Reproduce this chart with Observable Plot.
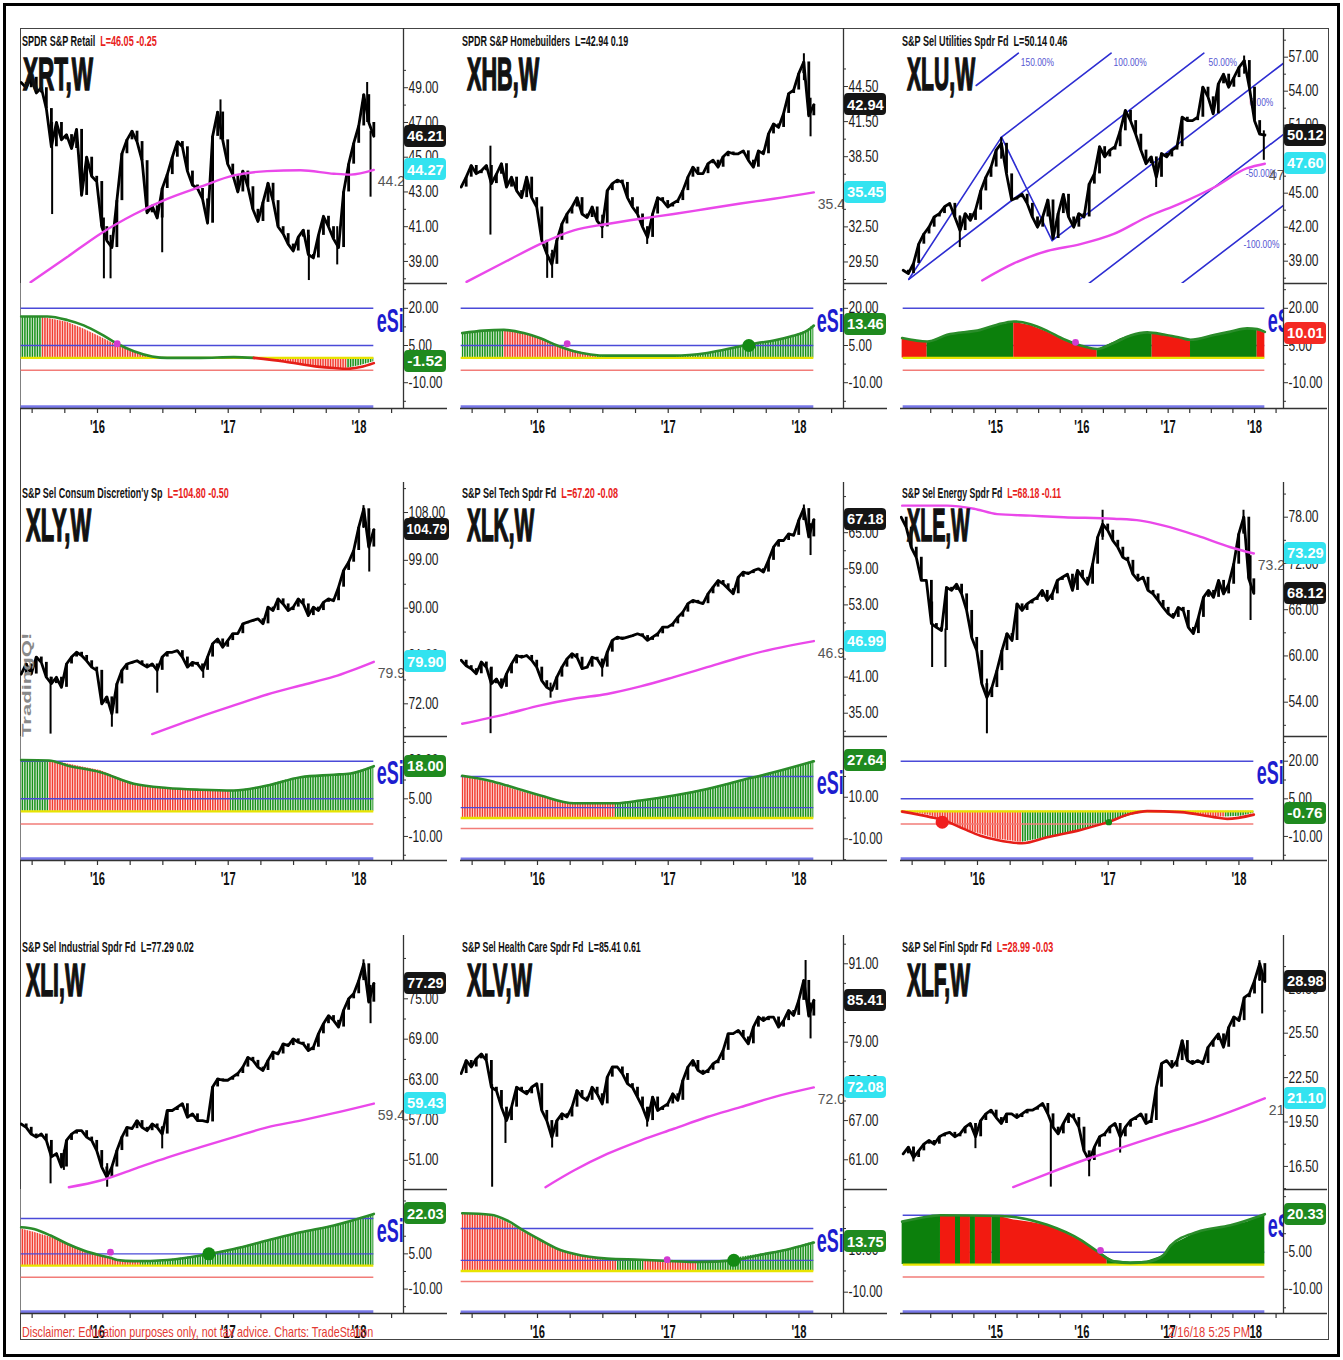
<!DOCTYPE html>
<html>
<head>
<meta charset="utf-8">
<script src="https://cdn.jsdelivr.net/npm/d3@7"></script>
<script src="https://cdn.jsdelivr.net/npm/@observablehq/plot@0.6"></script>
<style>
html,body{margin:0;padding:0;background:#fff;}
#root{position:relative;width:1343px;height:1360px;overflow:hidden;background:#fff;font-family:"Liberation Sans",Arial,Helvetica,sans-serif;}
#root > *{position:absolute;}
.ttl{white-space:nowrap;font-weight:bold;line-height:1;transform-origin:0 0;color:#111;}
.box{display:flex;align-items:center;justify-content:center;border-radius:4px;color:#fff;font-weight:bold;font-size:15.5px;line-height:1;overflow:hidden;}
.box span{display:inline-block;white-space:nowrap;}
</style>
</head>
<body>
<div id="root"></div>
<script>
// ================= DATA =================
// time spans (decimal years) of the weekly series and of the x scales
const shortSpan = [2015.416, 2018.114];
const longSpan = [2013.931, 2018.120];
const shortDomain = [2015.411, 2018.341];
const longDomain = [2013.900, 2018.336];
const shortYears = [2016, 2017, 2018];
const longYears = [2015, 2016, 2017, 2018];

// ---- XRT ----
const xrtPrice = [49.3,49.0,49.6,48.7,49.0,47.8,45.6,47.0,46.0,46.3,45.5,46.6,42.8,45.0,43.9,43.6,41.0,40.2,39.8,42.5,45.2,46.0,46.5,45.9,44.8,41.8,42.2,41.5,43.2,44.0,45.0,45.9,45.6,44.2,43.4,43.2,42.6,41.2,46.2,47.6,46.0,44.6,44.0,43.0,44.2,43.3,42.0,41.3,42.4,43.5,42.5,41.0,40.6,40.0,39.6,40.4,40.8,39.4,39.2,40.5,41.6,41.0,40.3,39.8,43.0,44.6,45.8,46.8,48.6,47.0,46.21];
const xrtMA = [[2015.488,37.8],[2015.768,39.25],[2016.023,40.6],[2016.278,41.7],[2016.533,42.6],[2016.788,43.3],[2017.043,43.95],[2017.298,44.2],[2017.553,44.25],[2017.808,44.05],[2017.936,44.0],[2018.114,44.27]];
const xrtSpikes = [[2015.653,41.7,47.0],[2016.049,38.0,41.5],[2016.100,38.0,40.5],[2016.495,39.5,43.0],[2016.941,46.0,48.3],[2017.617,37.9,40.5],[2017.834,38.8,41.0],[2018.063,47.0,49.3],[2018.089,42.7,46.5]];
const xrtHist = [[2015.416,16.4,"g"],[2015.577,16.4,"r"],[2015.768,14.4,"r"],[2015.895,11.7,"r"],[2016.023,8.4,"r"],[2016.151,5.0,"r"],[2016.278,2.3,"r"],[2016.418,0.6,"r"],[2016.533,0.1,"r"],[2016.712,-0.3,"g"],[2016.916,0.1,"r"],[2017.196,-0.4,"r"],[2017.426,-1.7,"r"],[2017.681,-3.7,"r"],[2017.808,-4.4,"r"],[2017.910,-4.2,"g"],[2018.012,-3.1,"g"],[2018.114,-1.52,"g"]];
const xrtSignal = [[2015.416,16.7,"g"],[2015.615,16.7,"g"],[2015.768,15.3,"g"],[2015.895,13.1,"g"],[2016.023,9.7,"g"],[2016.151,5.7,"g"],[2016.278,2.7,"g"],[2016.418,0.6,"g"],[2016.533,0.0,"g"],[2016.788,0.0,"g"],[2017.043,0.3,"g"],[2017.196,0.0,"r"],[2017.426,-1.45,"r"],[2017.681,-3.5,"r"],[2017.808,-4.1,"r"],[2017.910,-4.4,"r"],[2018.012,-3.7,"r"],[2018.114,-2.1,"r"]];
const xrtDots = [[2016.151,5.7,"pink"]];
const xrtTicks = [39,41,43,45,47,49];
const xrtMinor = [38,40,42,44,46,48,50];

// ---- XHB ----
const xhbPrice = [35.9,36.75,37.75,37.05,37.3,37.75,36.2,37.0,37.9,35.9,36.75,35.6,35.0,36.75,35.0,34.2,31.35,30.2,29.3,31.35,32.75,33.6,34.2,35.0,33.6,33.3,34.2,33.0,32.5,35.6,36.2,36.5,36.3,35.0,34.2,33.6,32.5,31.6,33.6,35.0,34.75,34.2,34.5,34.75,35.6,36.75,37.6,37.05,37.05,37.9,38.2,37.6,38.5,38.9,38.75,38.75,39.0,38.2,37.6,39.0,38.75,40.45,41.3,41.0,42.2,43.9,44.2,45.6,46.6,42.0,42.94];
const xhbMA = [[2015.457,27.8],[2015.768,29.6],[2016.023,31.05],[2016.278,32.2],[2016.533,32.75],[2016.788,33.2],[2017.043,33.6],[2017.298,34.05],[2017.553,34.5],[2017.808,34.9],[2018.114,35.45]];
const xhbSpikes = [[2015.640,31.8,39.4],[2016.074,28.1,31.0],[2016.112,28.1,30.5],[2016.495,31.5,33.5],[2016.839,31.0,32.5],[2018.038,45.0,47.3],[2018.089,40.2,43.5]];
const xhbHist = [[2015.424,9.7,"g"],[2015.513,10.4,"g"],[2015.590,11.0,"g"],[2015.743,11.0,"r"],[2015.895,9.7,"r"],[2016.023,7.7,"r"],[2016.151,5.0,"r"],[2016.278,3.0,"r"],[2016.406,1.4,"r"],[2016.457,1.0,"g"],[2016.788,0.6,"r"],[2016.890,0.6,"g"],[2017.043,0.6,"g"],[2017.298,1.6,"g"],[2017.553,4.3,"g"],[2017.681,5.7,"g"],[2017.808,7.0,"g"],[2017.936,8.4,"g"],[2018.063,11.0,"g"],[2018.114,13.46,"g"]];
const xhbSignal = [[2015.424,10.0,"g"],[2015.590,11.0,"g"],[2015.743,11.3,"g"],[2015.895,10.0,"g"],[2016.023,7.9,"g"],[2016.151,5.0,"g"],[2016.278,2.7,"g"],[2016.406,1.4,"g"],[2016.533,0.9,"g"],[2016.788,0.9,"g"],[2017.043,0.9,"g"],[2017.298,2.0,"g"],[2017.553,4.7,"g"],[2017.681,6.0,"g"],[2017.808,7.0,"g"],[2017.936,8.6,"g"],[2018.063,11.0,"g"],[2018.114,13.0,"g"]];
const xhbDots = [[2016.227,5.7,"pink"],[2017.617,5.0,"green"]];
const xhbTicks = [29.5,32.5,35.5,38.5,41.5,44.5];
const xhbMinor = [28,31,34,37,40,43,46];

// ---- XLU ----
const xluPrice = [38.2,37.9,38.8,40.5,41.4,42.0,42.9,43.2,43.8,44.1,42.9,41.7,43.2,42.6,43.5,45.2,46.4,47.3,48.8,49.4,46.7,44.4,44.6,44.9,44.1,42.9,42.0,42.9,44.4,41.0,43.2,44.9,42.9,42.0,43.2,42.9,45.8,46.7,49.1,48.2,48.8,49.1,50.5,52.3,51.4,50.2,48.8,47.6,48.2,46.4,48.5,48.2,48.8,49.1,51.7,51.4,51.4,51.7,54.35,53.5,52.0,54.65,55.5,54.35,55.2,56.1,56.7,54.35,51.4,50.2,50.12];
const xluMA = [[2014.846,37.3],[2015.212,38.8],[2015.599,39.9],[2015.985,40.5],[2016.371,41.4],[2016.757,42.9],[2017.143,44.1],[2017.529,45.5],[2017.915,47.2],[2018.120,47.6]];
const xluSpikes = [[2014.587,40.2,43.0],[2015.066,48.0,49.9],[2016.861,45.5,47.5],[2017.880,55.5,57.1],[2018.108,47.9,50.5]];
const xluHist = [[2013.919,7.7,"r"],[2014.054,7.0,"r"],[2014.209,6.3,"g"],[2014.440,9.0,"g"],[2014.633,10.4,"g"],[2014.826,11.0,"g"],[2015.019,13.1,"g"],[2015.212,14.4,"r"],[2015.405,13.1,"r"],[2015.599,10.4,"r"],[2015.792,7.0,"r"],[2015.985,4.6,"r"],[2016.178,3.3,"g"],[2016.371,6.3,"g"],[2016.448,7.7,"g"],[2016.564,9.0,"g"],[2016.757,10.1,"g"],[2016.815,10.0,"r"],[2016.950,9.0,"r"],[2017.143,7.7,"r"],[2017.259,7.0,"g"],[2017.529,9.0,"g"],[2017.722,10.4,"g"],[2017.915,11.7,"g"],[2018.031,11.3,"r"],[2018.120,10.01,"r"]];
const xluSignal = [[2013.919,8.0,"g"],[2014.209,6.6,"g"],[2014.440,9.3,"g"],[2014.826,11.3,"g"],[2015.019,13.4,"g"],[2015.212,14.7,"g"],[2015.405,13.6,"g"],[2015.599,10.9,"g"],[2015.792,7.5,"g"],[2015.985,5.0,"g"],[2016.178,3.6,"g"],[2016.371,6.0,"g"],[2016.564,9.0,"g"],[2016.757,10.3,"g"],[2016.950,9.4,"g"],[2017.143,8.1,"g"],[2017.259,7.3,"g"],[2017.529,9.2,"g"],[2017.722,10.6,"g"],[2017.915,11.9,"g"],[2018.031,11.6,"g"],[2018.120,10.5,"g"]];
const xluDots = [[2015.927,6.3,"pink"]];
const xluTicks = [39,42,45,48,51,54,57];
const xluMinor = [37.5,40.5,43.5,46.5,49.5,52.5,55.5,58.5];
// Andrews pitchfork anchors (A low, B high, C low) and its levels
const xluFork = [[2013.996,37.4],[2015.070,49.94],[2015.656,40.82]];
const forkLevels = [1.5, 1, 0.5, 0, -0.5, -1];

// ---- XLY ----
const xlyPrice = [77.6,79.5,77.6,80.8,79.8,77.0,75.8,77.0,75.1,79.5,80.8,81.7,81.1,80.1,78.9,78.3,72.0,73.3,70.1,75.75,78.3,79.5,79.8,80.1,79.5,78.9,79.5,78.3,80.8,81.7,81.7,82.0,80.8,78.9,79.8,79.5,78.3,80.8,83.3,84.2,82.65,83.9,85.2,85.2,87.05,87.4,87.7,88.0,87.05,90.2,89.55,91.75,90.8,89.55,90.2,91.75,90.8,88.6,90.2,89.55,91.1,91.75,91.4,93.95,97.1,98.65,100.85,105.2,108.7,101.5,104.79];
const xlyMA = [[2016.418,66.3],[2016.788,69.6],[2017.043,71.7],[2017.298,73.75],[2017.553,75.45],[2017.808,77.1],[2018.114,79.9]];
const xlySpikes = [[2015.641,66.3,77.0],[2016.110,67.6,72.0],[2016.457,74.0,79.0],[2016.809,76.8,79.0],[2018.035,105.0,109.3],[2018.079,96.8,105.0]];
const xlyHist = [[2015.416,20.3,"g"],[2015.628,20.3,"r"],[2015.768,19.0,"r"],[2015.895,17.6,"r"],[2016.023,16.3,"r"],[2016.151,13.6,"r"],[2016.278,11.0,"r"],[2016.406,9.65,"r"],[2016.533,9.0,"r"],[2016.661,8.6,"r"],[2016.788,8.3,"r"],[2016.916,8.1,"r"],[2017.018,8.1,"g"],[2017.171,9.0,"g"],[2017.298,10.3,"g"],[2017.426,12.3,"g"],[2017.553,13.6,"g"],[2017.681,14.3,"g"],[2017.808,14.3,"g"],[2017.936,15.0,"g"],[2018.012,16.3,"g"],[2018.114,18.0,"g"]];
const xlySignal = [[2015.416,20.5,"g"],[2015.628,20.3,"g"],[2015.768,18.3,"g"],[2016.023,15.6,"g"],[2016.278,11.0,"g"],[2016.533,9.3,"g"],[2016.788,8.6,"g"],[2017.043,8.3,"g"],[2017.298,10.3,"g"],[2017.553,13.6,"g"],[2017.808,14.6,"g"],[2017.936,15.1,"g"],[2018.114,18.0,"g"]];
const xlyDots = [];
const xlyTicks = [72,81,90,99,108];
const xlyMinor = [67.5,76.5,85.5,94.5,103.5,112.5];

// ---- XLK ----
const xlkPrice = [43.8,42.9,42.4,41.55,43.5,42.65,39.9,40.7,39.3,41.55,43.2,44.6,44.3,44.6,43.8,42.65,40.4,39.3,38.8,41.0,42.65,44.0,44.9,44.3,42.4,42.65,44.3,44.0,42.65,45.15,47.1,47.65,47.4,47.65,47.9,48.2,47.9,47.1,47.65,48.2,49.3,49.3,49.85,50.95,51.8,53.2,53.75,53.45,53.2,54.85,55.95,57.05,56.5,55.7,54.85,57.6,58.45,58.2,58.7,59.0,58.45,60.4,62.6,63.7,63.7,64.8,64.55,67.05,69.0,64.3,67.18];
const xlkMA = [[2015.424,33.25],[2015.768,34.9],[2016.023,36.3],[2016.278,37.4],[2016.533,38.2],[2016.788,39.45],[2017.043,41.0],[2017.298,42.65],[2017.553,44.3],[2017.808,45.7],[2018.114,46.99]];
const xlkSpikes = [[2015.641,31.6,42.5],[2016.100,37.5,40.0],[2016.495,41.0,43.5],[2018.038,67.0,69.6],[2018.089,61.2,66.5]];
const xlkHist = [[2015.424,19.9,"r"],[2015.513,18.8,"r"],[2015.641,17.2,"r"],[2015.768,14.8,"r"],[2015.895,12.4,"r"],[2016.023,10.3,"r"],[2016.151,8.4,"r"],[2016.278,6.8,"r"],[2016.406,6.8,"r"],[2016.597,7.1,"g"],[2016.788,8.4,"g"],[2017.043,10.8,"g"],[2017.298,14.0,"g"],[2017.553,18.0,"g"],[2017.808,22.0,"g"],[2017.936,23.6,"g"],[2018.114,27.64,"g"]];
const xlkSignal = [[2015.424,20.3,"g"],[2015.641,17.8,"g"],[2015.768,15.6,"g"],[2016.023,10.8,"g"],[2016.278,7.1,"g"],[2016.597,7.1,"g"],[2016.788,8.4,"g"],[2017.043,10.8,"g"],[2017.298,14.0,"g"],[2017.553,18.0,"g"],[2017.808,22.0,"g"],[2018.114,27.3,"g"]];
const xlkDots = [];
const xlkTicks = [35,41,47,53,59,65];
const xlkMinor = [32,38,44,50,56,62,68,71];

// ---- XLE ----
const xlePrice = [78.0,76.7,74.1,72.8,69.8,69.8,64.2,63.7,63.3,68.9,68.5,69.3,68.05,65.9,62.4,60.7,56.4,54.6,55.9,58.1,60.7,62.9,62.0,66.75,65.9,66.75,67.2,67.6,68.5,67.2,68.05,69.8,70.2,70.6,68.5,71.1,70.2,69.3,71.9,75.4,77.1,76.3,75.0,74.1,72.8,72.4,70.6,69.8,70.2,68.5,68.05,67.2,66.3,65.5,65.0,66.3,65.9,63.7,62.9,65.0,67.6,68.5,67.6,69.8,68.05,69.3,71.9,75.8,78.0,70.0,68.12];
const xleMA = [[2015.424,79.5],[2015.768,79.5],[2015.972,79.1],[2016.151,78.4],[2016.406,78.2],[2016.661,78.0],[2017.043,77.8],[2017.247,77.55],[2017.426,76.9],[2017.681,75.6],[2017.936,74.1],[2018.114,73.29]];
const xleSpikes = [[2015.653,58.5,67.0],[2015.755,58.5,63.5],[2016.072,49.9,57.0],[2016.957,75.0,78.9],[2018.035,76.0,78.9],[2018.089,64.6,73.0]];
const xleHist = [[2015.424,0.3,"r"],[2015.641,-1.65,"r"],[2015.743,-3.6,"r"],[2015.895,-7.0,"r"],[2016.023,-9.0,"r"],[2016.151,-11.0,"r"],[2016.278,-11.9,"r"],[2016.342,-12.3,"g"],[2016.533,-10.3,"g"],[2016.788,-7.6,"g"],[2016.992,-4.7,"g"],[2017.171,-1.65,"g"],[2017.324,0.1,"r"],[2017.553,-0.3,"r"],[2017.681,-1.65,"r"],[2017.808,-2.3,"r"],[2017.898,-2.3,"g"],[2018.012,-2.0,"g"],[2018.114,-0.76,"g"]];
const xleSignal = [[2015.424,-0.1,"r"],[2015.641,-2.3,"r"],[2015.743,-3.6,"r"],[2015.895,-7.0,"r"],[2016.023,-9.7,"r"],[2016.151,-11.4,"r"],[2016.342,-12.7,"r"],[2016.533,-10.3,"r"],[2016.788,-7.4,"r"],[2016.992,-4.4,"r"],[2017.171,-1.0,"r"],[2017.298,0.1,"r"],[2017.553,-0.3,"r"],[2017.808,-2.3,"r"],[2017.910,-3.0,"r"],[2018.114,-1.3,"r"]];
const xleDots = [[2015.730,-4.3,"red"],[2017.005,-4.3,"gsmall"]];
const xleTicks = [54,60,66,72,78];
const xleMinor = [51,57,63,69,75,81];

// ---- XLI ----
const xliPrice = [56.4,55.9,54.9,54.45,54.9,53.95,51.5,52.0,50.0,53.95,54.9,55.4,55.4,54.45,53.95,52.45,50.0,48.5,50.0,52.45,54.45,55.9,55.7,56.9,55.9,55.4,56.4,55.9,54.9,58.4,58.4,58.9,59.4,57.4,57.9,56.9,56.9,56.7,61.9,63.1,62.9,62.9,63.4,63.9,64.85,66.3,65.85,64.85,64.35,65.85,67.1,66.8,68.3,68.05,69.05,68.55,68.3,67.3,67.8,69.8,71.3,72.5,71.8,70.8,73.3,75.0,75.75,77.7,80.2,74.5,77.29];
const xliMA = [[2015.781,47.0],[2016.023,48.0],[2016.278,49.7],[2016.533,51.4],[2016.788,52.95],[2017.043,54.45],[2017.298,55.9],[2017.553,56.9],[2017.808,58.0],[2018.114,59.43]];
const xliSpikes = [[2015.641,47.5,53.0],[2015.743,49.5,52.5],[2016.074,47.0,50.5],[2016.495,52.7,56.0],[2018.035,78.0,80.8],[2018.089,71.3,77.0]];
const xliHist = [[2015.416,15.6,"r"],[2015.513,14.2,"r"],[2015.641,12.1,"r"],[2015.768,9.3,"r"],[2015.895,6.4,"r"],[2016.023,4.3,"r"],[2016.151,2.4,"r"],[2016.278,1.9,"r"],[2016.329,1.9,"g"],[2016.533,2.4,"g"],[2016.788,4.3,"g"],[2017.043,7.1,"g"],[2017.298,10.7,"g"],[2017.553,14.2,"g"],[2017.808,17.1,"g"],[2017.936,18.5,"g"],[2018.114,22.03,"g"]];
const xliSignal = [[2015.416,16.3,"g"],[2015.513,15.6,"g"],[2015.641,12.8,"g"],[2015.768,9.3,"g"],[2015.895,6.4,"g"],[2016.023,4.3,"g"],[2016.099,3.3,"g"],[2016.151,2.4,"g"],[2016.278,1.9,"g"],[2016.533,2.4,"g"],[2016.788,4.3,"g"],[2017.043,7.1,"g"],[2017.298,10.7,"g"],[2017.553,14.2,"g"],[2017.808,17.1,"g"],[2018.114,22.0,"g"]];
const xliDots = [[2016.099,5.7,"pink"],[2016.852,5.0,"green"]];
const xliTicks = [51,57,63,69,75];
const xliMinor = [48,54,60,66,72,78,81];

// ---- XLV ----
const xlvPrice = [74.2,76.2,75.2,76.45,77.2,76.2,72.1,71.6,69.05,67.0,69.05,72.1,71.6,71.1,72.1,72.65,68.55,67.0,64.45,67.0,68.05,67.55,69.05,71.6,70.6,70.1,72.1,71.1,69.55,73.65,75.2,75.2,74.2,72.65,72.1,70.6,69.05,67.0,70.6,68.55,69.05,69.55,71.1,70.1,73.15,75.2,76.2,74.7,74.2,74.7,75.7,76.2,77.75,80.3,80.3,80.8,79.8,78.75,81.3,82.85,82.3,82.85,82.85,81.3,82.3,83.85,83.1,85.4,88.45,83.0,85.41];
const xlvMA = [[2016.061,56.8],[2016.278,59.35],[2016.533,61.9],[2016.788,63.95],[2017.043,65.75],[2017.298,67.55],[2017.553,69.05],[2017.808,70.6],[2018.114,72.08]];
const xlvSpikes = [[2015.653,56.8,72.5],[2015.755,63.5,68.0],[2016.112,62.8,66.0],[2016.839,66.0,69.0],[2018.051,86.0,91.5],[2018.089,79.5,85.0]];
const xlvHist = [[2015.424,27.0,"r"],[2015.513,27.0,"r"],[2015.641,26.2,"r"],[2015.768,23.0,"r"],[2015.895,18.3,"r"],[2016.023,14.4,"r"],[2016.151,10.5,"r"],[2016.278,8.1,"r"],[2016.406,6.2,"r"],[2016.533,5.3,"r"],[2016.610,5.0,"g"],[2016.814,5.0,"r"],[2016.992,4.2,"r"],[2017.222,3.7,"g"],[2017.426,4.6,"g"],[2017.553,6.5,"g"],[2017.808,8.9,"g"],[2017.936,10.5,"g"],[2018.114,13.75,"g"]];
const xlvSignal = [[2015.424,27.2,"g"],[2015.641,26.5,"g"],[2015.768,23.8,"g"],[2015.895,19.0,"g"],[2016.023,14.6,"g"],[2016.151,10.5,"g"],[2016.278,8.1,"g"],[2016.533,5.8,"g"],[2016.788,5.3,"g"],[2017.043,4.6,"g"],[2017.222,4.2,"g"],[2017.502,5.0,"g"],[2017.681,7.3,"g"],[2017.936,10.5,"g"],[2018.114,13.4,"g"]];
const xlvDots = [[2016.992,5.3,"pink"],[2017.502,5.0,"green"]];
const xlvTicks = [61,67,73,79,85,91];
const xlvMinor = [58,64,70,76,82,88,94];

// ---- XLF ----
const xlfPrice = [17.35,17.8,17.1,17.55,18.0,18.25,18.0,18.5,18.7,18.8,18.5,18.7,19.15,19.4,18.5,19.6,20.05,20.3,19.8,19.4,20.05,20.05,19.8,20.05,20.3,20.3,20.5,20.75,20.05,19.15,18.7,19.4,20.05,19.8,19.15,17.55,16.9,17.8,18.5,18.7,19.15,19.4,18.5,19.15,19.6,19.8,20.05,19.4,19.6,21.85,23.45,23.65,23.2,23.65,25.0,23.65,23.45,23.65,23.45,24.55,25.0,25.45,24.55,25.9,26.6,26.35,27.9,28.15,29.05,30.2,28.98];
const xlfMA = [[2015.205,15.1],[2015.599,16.0],[2016.062,17.0],[2016.506,17.85],[2016.950,18.7],[2017.336,19.4],[2017.722,20.2],[2018.120,21.1]];
const xlfSpikes = [[2014.050,16.8,17.8],[2014.768,17.7,19.0],[2015.641,15.1,19.5],[2016.085,15.8,17.5],[2016.444,17.4,19.0],[2018.058,29.0,30.4],[2018.089,26.8,29.5]];
const xlfHist = [[2013.919,17.1,"g"],[2014.054,18.5,"g"],[2014.247,19.4,"g"],[2014.363,19.8,"r"],[2014.537,19.8,"g"],[2014.595,19.8,"r"],[2014.710,19.8,"g"],[2014.768,19.8,"r"],[2014.961,19.7,"g"],[2015.058,19.4,"r"],[2015.212,18.1,"r"],[2015.405,17.1,"r"],[2015.599,15.8,"r"],[2015.792,13.1,"r"],[2015.985,9.7,"r"],[2016.178,5.7,"r"],[2016.294,3.0,"g"],[2016.371,1.6,"g"],[2016.564,1.0,"g"],[2016.757,1.4,"g"],[2016.950,3.65,"g"],[2017.027,7.7,"g"],[2017.143,9.7,"g"],[2017.336,13.1,"g"],[2017.529,14.4,"g"],[2017.722,15.8,"g"],[2017.915,17.1,"g"],[2018.120,20.33,"g"]];
const xlfSignal = [[2013.919,17.4,"g"],[2014.247,19.6,"g"],[2014.363,20.0,"g"],[2015.058,19.7,"g"],[2015.599,16.1,"g"],[2015.985,10.0,"g"],[2016.178,5.4,"g"],[2016.371,1.3,"g"],[2016.564,0.7,"g"],[2016.757,1.1,"g"],[2016.950,4.0,"g"],[2017.027,7.7,"g"],[2017.336,13.2,"g"],[2017.722,15.9,"g"],[2018.120,20.4,"g"]];
const xlfDots = [[2016.216,5.7,"pink"]];
const xlfTicks = [16.5,19.5,22.5,25.5,28.5];
const xlfMinor = [15,18,21,24,27,30];

// indicator axis ticks
const esiTicks15 = [20,5,-10], esiMinor15 = [27.5,12.5,-2.5,-17.5];
const esiTicks20 = [30,10,-10], esiMinor20 = [20,0,-20];
const xlvEsiTicks = [10,-10], xlvEsiMinor = [30,20,0,-20];

const disclaimerText = "Disclaimer: Education purposes only, not tax advice.  Charts: TradeStation";
const stampText = "2/16/18 5:25 PM";
const watermarkText = "TradingQ!";

// ================= LAYOUT / STYLE =================
const root = document.getElementById("root");
const COLX = [20, 460, 900];
const ROWS = [
  {top:28, sep:283, bot:408, t1:8, t2:29},
  {top:482, sep:736, bot:860, t1:6, t2:26},
  {top:935, sep:1189, bot:1313, t1:7, t2:28}
];
const PW = 383, AX = 44, MB = 32;
const FONT = '"Liberation Sans", Arial, Helvetica, sans-serif';
const C = {green:"#189018", red:"#f23c30", greenS:"#0c800c", redS:"#f21a10", sigG:"#2a8c2a", sigR:"#e51e18",
  blue:"#4a4ad8", bottom:"#7878e8", yellow:"#e8e400", redLine:"#f27c78", ma:"#ea48ea", fork:"#2d2dd2",
  forkText:"#5656d2", esi:"#1d1dcf", axis:"#333"};
const DOT = {pink:{r:3.4, c:"#d23ad2"}, green:{r:6.5, c:"#138a13"}, red:{r:6.5, c:"#f01e1e"}, gsmall:{r:3.2, c:"#138a13"}};
const forkTop = 57.35, forkLabelT = 2018.08;
const shortQuarters = d3.range(2015.5, 2018.3, 0.25);
const longQuarters = d3.range(2014.25, 2018.3, 0.25);

const panels = [
  {sym:"XRT,W", name:"SPDR S&P Retail", quote:"L=46.05  -0.25", down:true, col:0, row:0, long:false, yDom:[37.73,52.41], iDom:[-20.4,30.0],
   price:xrtPrice, ma:xrtMA, spikes:xrtSpikes, hist:xrtHist, signal:xrtSignal, dots:xrtDots, ticks:xrtTicks, minor:xrtMinor,
   iTicks:esiTicks15, iMinor:esiMinor15, iBox:"#1f8a1f", esiY:15, titleW:135, symW:70, symX:3},
  {sym:"XHB,W", name:"SPDR S&P Homebuilders", quote:"L=42.94  0.19", down:false, col:1, row:0, long:false, yDom:[27.66,49.46], iDom:[-20.4,30.0],
   price:xhbPrice, ma:xhbMA, spikes:xhbSpikes, hist:xhbHist, signal:xhbSignal, dots:xhbDots, ticks:xhbTicks, minor:xhbMinor,
   iTicks:esiTicks15, iMinor:esiMinor15, iBox:"#1f8a1f", esiY:15, titleW:166, symW:72, symX:7},
  {sym:"XLU,W", name:"S&P Sel Utilities Spdr Fd", quote:"L=50.14  0.46", down:false, col:2, row:0, long:true, yDom:[37.03,59.53], iDom:[-20.4,30.0],
   price:xluPrice, ma:xluMA, spikes:xluSpikes, hist:xluHist, signal:xluSignal, dots:xluDots, ticks:xluTicks, minor:xluMinor,
   iTicks:esiTicks15, iMinor:esiMinor15, iBox:"#f42a24", esiY:15, titleW:165, symW:68, symX:7, fork:xluFork, solid:true},
  {sym:"XLY,W", name:"S&P Sel Consum Discretion'y Sp", quote:"L=104.80  -0.50", down:true, col:0, row:1, long:false, yDom:[65.85,113.65], iDom:[-19.6,29.85],
   price:xlyPrice, ma:xlyMA, spikes:xlySpikes, hist:xlyHist, signal:xlySignal, dots:xlyDots, ticks:xlyTicks, minor:xlyMinor,
   iTicks:esiTicks15, iMinor:esiMinor15, iBox:"#1f8a1f", esiY:15.4, titleW:207, symW:65, symX:6},
  {sym:"XLK,W", name:"S&P Sel Tech Spdr Fd", quote:"L=67.20  -0.08", down:true, col:1, row:1, long:false, yDom:[31.13,73.34], iDom:[-20.4,39.2],
   price:xlkPrice, ma:xlkMA, spikes:xlkSpikes, hist:xlkHist, signal:xlkSignal, dots:xlkDots, ticks:xlkTicks, minor:xlkMinor,
   iTicks:esiTicks20, iMinor:esiMinor20, iBox:"#1f8a1f", esiY:16.6, titleW:156, symW:67, symX:7},
  {sym:"XLE,W", name:"S&P Sel Energy Spdr Fd", quote:"L=68.18  -0.11", down:true, col:2, row:1, long:false, yDom:[49.55,82.50], iDom:[-19.6,29.85],
   price:xlePrice, ma:xleMA, spikes:xleSpikes, hist:xleHist, signal:xleSignal, dots:xleDots, ticks:xleTicks, minor:xleMinor,
   iTicks:esiTicks15, iMinor:esiMinor15, iBox:"#1f8a1f", esiY:15.4, titleW:159, symW:63, symX:7},
  {sym:"XLI,W", name:"S&P Sel Industrial Spdr Fd", quote:"L=77.29  0.02", down:false, col:0, row:2, long:false, yDom:[46.66,84.41], iDom:[-20.4,32.4],
   price:xliPrice, ma:xliMA, spikes:xliSpikes, hist:xliHist, signal:xliSignal, dots:xliDots, ticks:xliTicks, minor:xliMinor,
   iTicks:esiTicks15, iMinor:esiMinor15, iBox:"#1f8a1f", esiY:14.5, titleW:172, symW:59, symX:6},
  {sym:"XLV,W", name:"S&P Sel Health Care Spdr Fd", quote:"L=85.41  0.61", down:false, col:1, row:2, long:false, yDom:[56.45,95.33], iDom:[-20.05,38.4],
   price:xlvPrice, ma:xlvMA, spikes:xlvSpikes, hist:xlvHist, signal:xlvSignal, dots:xlvDots, ticks:xlvTicks, minor:xlvMinor,
   iTicks:xlvEsiTicks, iMinor:xlvEsiMinor, iBox:"#1f8a1f", esiY:13.9, titleW:179, symW:65, symX:7},
  {sym:"XLF,W", name:"S&P Sel Finl Spdr Fd", quote:"L=28.99  -0.03", down:true, col:2, row:2, long:true, yDom:[14.94,32.10], iDom:[-19.8,30.4],
   price:xlfPrice, ma:xlfMA, spikes:xlfSpikes, hist:xlfHist, signal:xlfSignal, dots:xlfDots, ticks:xlfTicks, minor:xlfMinor,
   iTicks:esiTicks15, iMinor:esiMinor15, iBox:"#1f8a1f", esiY:15.4, titleW:151, symW:63, symX:7, solid:true}
];

// ================= HELPERS =================
function place(el, x, y) { el.style.left = x + "px"; el.style.top = y + "px"; root.appendChild(el); return el; }
const tag = name => () => name;  // per-element aria-label channel used to find texts afterwards

function fitText(svg, label, f, fixed) {
  const els = svg.querySelectorAll('text[aria-label="' + label + '"], [aria-label="' + label + '"] text');
  els.forEach(t => {
    let target = fixed;
    if (!target) {
      const w = t.getComputedTextLength();
      if (!w) return;
      target = w * f;
    }
    t.setAttribute("textLength", target);
    t.setAttribute("lengthAdjust", "spacingAndGlyphs");
  });
}

function segments(arr) {
  const out = [];
  let cur = null;
  for (const d of arr) {
    if (!cur || cur.c !== d[2]) {
      if (cur) cur.pts.push(d);
      cur = {c: d[2], pts: [d]};
      out.push(cur);
    } else cur.pts.push(d);
  }
  return out;
}

function forkMarks(fork) {
  const [A, B, Cp] = fork;
  const M = [(B[0] + Cp[0]) / 2, (B[1] + Cp[1]) / 2];
  const s = (M[1] - A[1]) / (M[0] - A[0]);
  const lines = forkLevels.map(k => {
    const p = k === 0.5 ? A : [Cp[0] + k * (B[0] - Cp[0]), Cp[1] + k * (B[1] - Cp[1])];
    return {k, a: p, b: [p[0] + (forkTop - p[1]) / s, forkTop]};
  });
  const segs = lines.flatMap(l => [{k: l.k, t: l.a[0], v: l.a[1]}, {k: l.k, t: l.b[0], v: l.b[1]}]);
  segs.push({k: "AB", t: A[0], v: A[1]}, {k: "AB", t: B[0], v: B[1]}, {k: "BC", t: B[0], v: B[1]}, {k: "BC", t: Cp[0], v: Cp[1]});
  const top = lines.filter(l => l.k >= 0.5).map(l => ({t: l.b[0], v: l.b[1], k: l.k}));
  const side = lines.filter(l => l.k <= 0).map(l => ({t: forkLabelT, v: l.a[1] + s * (forkLabelT - l.a[0]), k: l.k}));
  const lab = d => (d.k * 100).toFixed(2) + "%";
  return [
    Plot.line(segs, {x: "t", y: "v", z: "k", stroke: C.fork, strokeWidth: 1.6, clip: true}),
    Plot.text(top, {x: "t", y: "v", text: lab, dx: 19, dy: 9, fontSize: 10.5, fill: C.forkText, ariaLabel: tag("forklab")}),
    Plot.text(side, {x: "t", y: "v", text: lab, dy: 22, fontSize: 10.5, fill: C.forkText, ariaLabel: tag("forklab"), clip: true})
  ];
}

function box(x, cy, text, bg) {
  const d = document.createElement("div");
  d.className = "box";
  const w = text.length > 5 ? 45 : 42;
  d.style.width = w + "px"; d.style.height = "22px"; d.style.background = bg;
  const s = document.createElement("span");
  s.textContent = text;
  d.appendChild(s);
  place(d, x, cy - 11);
  const f = Math.min(1, (w - 5) / s.offsetWidth);
  s.style.transform = "scaleX(" + f + ")";
}

function textDiv(text, size, weight, color, x, y, targetW) {
  const d = document.createElement("div");
  d.className = "ttl";
  d.style.fontSize = size + "px"; d.style.fontWeight = weight; d.style.color = color;
  d.textContent = text;
  place(d, x, y);
  d.style.transform = "scaleX(" + (targetW / d.offsetWidth) + ")";
  return d;
}

// ================= FRAMES =================
const outer = document.createElement("div");
outer.style.cssText = "width:1337px;height:1354px;border:3px solid #000;box-sizing:border-box;";
place(outer, 3, 3);
const inner = document.createElement("div");
inner.style.cssText = "width:1309px;height:1312px;border:1.5px solid #444;box-sizing:border-box;";
place(inner, 20, 28);

// ================= PANELS =================
function drawPanel(P) {
  const L = ROWS[P.row], X0 = COLX[P.col];
  const xDom = P.long ? longDomain : shortDomain;
  const [t0, tEnd] = P.long ? longSpan : shortSpan;
  const [x0, x1] = xDom, ux = (x1 - x0) / PW;
  const style = {background: "transparent", overflow: "visible", fontFamily: FONT};

  // ---- price pane ----
  const H = L.sep - L.top;
  const n = P.price.length;
  const pts = P.price.map((v, i) => ({t: t0 + i * (tEnd - t0) / (n - 1), v}));
  const bars = pts.map((d, i) => {
    const p = pts[Math.max(0, i - 1)].v;
    return {t: d.t, lo: Math.min(p, d.v), hi: Math.max(p, d.v)};
  });
  const maLast = P.ma[P.ma.length - 1];
  const pm = [];
  if (P.fork) pm.push(...forkMarks(P.fork));
  pm.push(
    Plot.ruleX(bars, {x: "t", y1: "lo", y2: "hi", stroke: "#000", strokeWidth: 2.8, clip: true}),
    Plot.ruleX(P.spikes, {x: d => d[0], y1: d => d[1], y2: d => d[2], stroke: "#000", strokeWidth: 2, clip: true}),
    Plot.line(pts, {x: "t", y: "v", stroke: "#000", strokeWidth: 2.8, clip: true}),
    Plot.line(P.ma, {x: d => d[0], y: d => d[1], stroke: C.ma, strokeWidth: 2.4, curve: "monotone-x", clip: true}),
    Plot.text([maLast], {x: d => d[0], y: d => d[1], text: d => d[1].toFixed(2), dx: 4, dy: 12, textAnchor: "start", fontSize: 14, fill: "#555", clip: true}),
    Plot.ruleX([x1], {stroke: C.axis, strokeWidth: 1.3}),
    Plot.ruleY(P.minor, {x1: x1, x2: x1 + 3 * ux, stroke: C.axis}),
    Plot.ruleY(P.ticks, {x1: x1, x2: x1 + 5 * ux, stroke: C.axis}),
    Plot.text(P.ticks, {x: x1, y: d => d, text: d => d.toFixed(2), dx: 5, textAnchor: "start", fontSize: 16, fill: "#1a1a1a", ariaLabel: tag("yticks")})
  );
  const ps = Plot.plot({width: PW + AX, height: H, marginLeft: 0, marginRight: AX, marginTop: 0, marginBottom: 0,
    x: {domain: xDom, axis: null}, y: {domain: P.yDom, axis: null}, style, marks: pm});
  place(ps, X0, L.top);
  fitText(ps, "yticks", 0.75);
  fitText(ps, "forklab", 0.8);

  // ---- indicator pane ----
  const Hi = L.bot - L.sep;
  const [i0, i1] = P.iDom, uy = (i1 - i0) / Hi;
  const lvl = (v, stroke, w) => Plot.ruleY([v], {x1: t0, x2: tEnd, stroke, strokeWidth: w});
  const im = [];
  if (P.solid) im.push(lvl(5, C.blue, 1.6));
  for (const s of segments(P.hist)) {
    const fill = s.c === "g" ? (P.solid ? C.greenS : C.green) : (P.solid ? C.redS : C.red);
    im.push(Plot.areaY(s.pts, {x: d => d[0], y1: 0, y2: d => d[1], fill, curve: "linear"}));
  }
  if (!P.solid) im.push(Plot.ruleX(d3.range(t0, tEnd, 7 / 365.25), {y1: i0, y2: i1, stroke: "#fff", strokeWidth: 0.9}), lvl(5, C.blue, 1.4));
  im.push(lvl(20, C.blue, 1.5), lvl(0, C.yellow, 2.4), lvl(-5, C.redLine, 1.5), lvl(i0 + 0.6, C.bottom, 3.5));
  for (const s of segments(P.signal)) {
    im.push(Plot.line(s.pts, {x: d => d[0], y: d => d[1], stroke: s.c === "g" ? C.sigG : C.sigR, strokeWidth: 2.6, curve: "monotone-x"}));
  }
  for (const k of Object.keys(DOT)) {
    const dd = P.dots.filter(d => d[2] === k);
    if (dd.length) im.push(Plot.dot(dd, {x: d => d[0], y: d => d[1], r: DOT[k].r, fill: DOT[k].c, stroke: "none"}));
  }
  im.push(
    Plot.text(["eSi"], {x: tEnd, y: P.esiY, dx: 3, textAnchor: "start", fontSize: 34, fontWeight: "bold", fill: C.esi, clip: true, ariaLabel: tag("esi")}),
    Plot.ruleX([x1], {stroke: C.axis, strokeWidth: 1.3}),
    Plot.ruleY([i1], {x1: x1, x2: x1 + AX * ux, stroke: C.axis, strokeWidth: 1.3}),
    Plot.ruleY([i0], {x1: x0, x2: x1 + AX * ux, stroke: C.axis, strokeWidth: 1.5}),
    Plot.ruleX(P.long ? longQuarters : shortQuarters, {y1: i0, y2: i0 - 5 * uy, stroke: C.axis, strokeWidth: 1.2}),
    Plot.text(P.long ? longYears : shortYears, {x: d => d, y: i0, dy: 19, text: d => "'" + String(d).slice(2), fontSize: 18, fontWeight: "bold", fill: "#111", ariaLabel: tag("xticks")}),
    Plot.ruleY(P.iMinor, {x1: x1, x2: x1 + 3 * ux, stroke: C.axis}),
    Plot.ruleY(P.iTicks, {x1: x1, x2: x1 + 5 * ux, stroke: C.axis}),
    Plot.text(P.iTicks, {x: x1, y: d => d, text: d => d.toFixed(2), dx: 5, textAnchor: "start", fontSize: 16, fill: "#1a1a1a", ariaLabel: tag("yticks")})
  );
  const is = Plot.plot({width: PW + AX, height: Hi + MB, marginLeft: 0, marginRight: AX, marginTop: 0, marginBottom: MB,
    x: {domain: xDom, axis: null}, y: {domain: P.iDom, axis: null}, style, marks: im});
  place(is, X0, L.sep);
  fitText(is, "yticks", 0.75);
  fitText(is, "xticks", 0.62);
  fitText(is, "esi", 0, 27);

  // ---- value boxes ----
  const yP = v => L.top + (P.yDom[1] - v) / (P.yDom[1] - P.yDom[0]) * H;
  const yI = v => L.sep + (i1 - v) / (i1 - i0) * Hi;
  const last = P.price[P.price.length - 1];
  box(X0 + PW + 1, yP(last), last.toFixed(2), "#151515");
  box(X0 + PW + 1, yP(maLast[1]), maLast[1].toFixed(2), "#33e3f0");
  const iLast = P.hist[P.hist.length - 1][1];
  box(X0 + PW + 1, yI(iLast), iLast.toFixed(2), P.iBox);

  // ---- titles ----
  const t = document.createElement("div");
  t.className = "ttl"; t.style.fontSize = "14px";
  const a = document.createElement("span"); a.textContent = P.name + "\u00a0\u00a0";
  const b = document.createElement("span"); b.textContent = P.quote; b.style.color = P.down ? "#e8231c" : "#111";
  t.appendChild(a); t.appendChild(b);
  place(t, X0 + 2, L.top + L.t1 - 1.8);
  t.style.transform = "scaleX(" + (P.titleW / t.offsetWidth) + ")";
  const sd = textDiv(P.sym, 46, "bold", "#111", X0 + P.symX, L.top + L.t2 - 6, P.symW);
  sd.style.webkitTextStroke = "1.6px #111";
}

panels.forEach(drawPanel);

// ================= FOOTNOTES =================
textDiv(disclaimerText, 15, "normal", "#e33a33", 22, 1323.5, 351);
textDiv(stampText, 15, "normal", "#e33a33", 1168, 1323.5, 82);
const wm = document.createElement("div");
wm.className = "ttl";
wm.style.cssText += "font-size:12px;color:#8a8a8a;";
wm.textContent = watermarkText;
place(wm, 21, 737);
wm.style.transform = "rotate(-90deg) scaleX(" + (105 / wm.offsetWidth) + ")";
</script>
</body>
</html>
